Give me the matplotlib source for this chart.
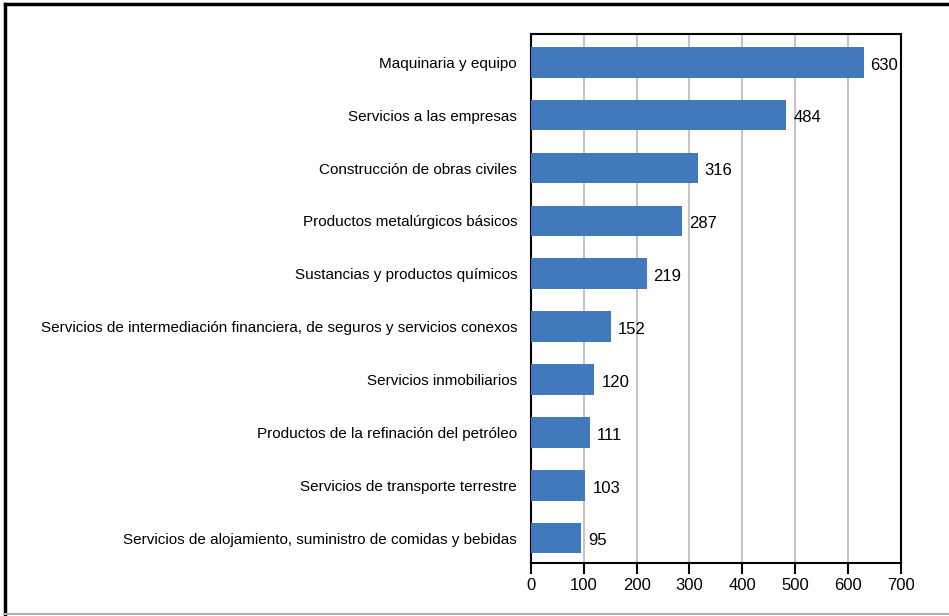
import matplotlib.pyplot as plt
from matplotlib.lines import Line2D

categories = [
    "Maquinaria y equipo",
    "Servicios a las empresas",
    "Construcción de obras civiles",
    "Productos metalúrgicos básicos",
    "Sustancias y productos químicos",
    "Servicios de intermediación financiera, de seguros y servicios conexos",
    "Servicios inmobiliarios",
    "Productos de la refinación del petróleo",
    "Servicios de transporte terrestre",
    "Servicios de alojamiento, suministro de comidas y bebidas",
]
values = [630, 484, 316, 287, 219, 152, 120, 111, 103, 95]
x_ticks = [0, 100, 200, 300, 400, 500, 600, 700]

plt.rcParams['font.family'] = ['Liberation Sans', 'DejaVu Sans']

fig = plt.figure(figsize=(9.49, 6.16), dpi=100)
ax = fig.add_axes([531 / 949, 1 - 563 / 616, 369.5 / 949, 529 / 616])

pos = list(range(len(categories)))
ax.barh(pos, values, height=0.58, color='#4179bc', zorder=3)
ax.set_ylim(len(categories) - 0.53, -0.535)
ax.set_xlim(0, 700)
ax.set_xticks(x_ticks)
ax.set_yticks(pos)
ax.set_yticklabels(categories, fontsize=11)
ax.tick_params(axis='y', length=0, pad=10)
ax.tick_params(axis='x', length=8, width=1.5, labelsize=12, pad=3)
ax.grid(axis='x', color='#c4c4c4', linewidth=1.5, zorder=0)
for s in ax.spines.values():
    s.set_linewidth(1.5)
    s.set_color('black')

for p, v in zip(pos, values):
    ax.annotate(str(v), (v, p), xytext=(5, -2), textcoords='offset points',
                va='center', ha='left', fontsize=12)

# marco exterior
fig.add_artist(Line2D([5 / 949, 1], [1 - 4 / 616, 1 - 4 / 616], color='black', lw=2.5, transform=fig.transFigure))
fig.add_artist(Line2D([5 / 949, 5 / 949], [0, 1 - 4 / 616], color='black', lw=2.5, transform=fig.transFigure))
fig.add_artist(Line2D([5 / 949, 1], [1 - 614 / 616, 1 - 614 / 616], color='#b0b0b0', lw=1.5, transform=fig.transFigure))

fig.savefig('out.png', dpi=100)
